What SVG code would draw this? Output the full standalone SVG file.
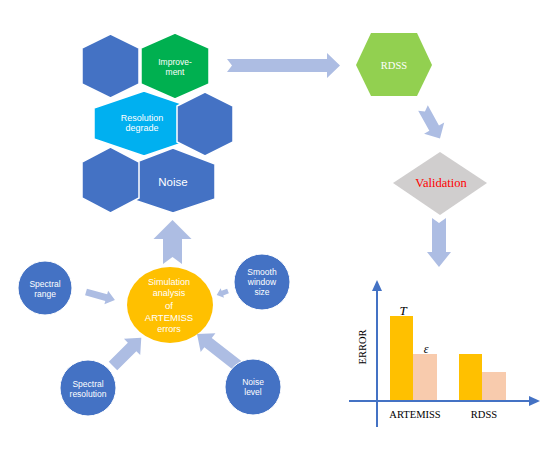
<svg xmlns="http://www.w3.org/2000/svg" width="550" height="450" viewBox="0 0 550 450">
<style>
.hb{fill:#4472C4;stroke:#fff;stroke-width:1.5}
.hg{fill:#00B050;stroke:#fff;stroke-width:1.5}
.hl{fill:#00B0F0;stroke:#fff;stroke-width:1.5}
.cb{fill:#4472C4;stroke:#fff;stroke-width:1}
.arr{fill:#ADBDE3}
.ws{fill:#fff;font-family:"Liberation Sans",Arial,sans-serif;text-anchor:middle}
.sf{font-family:"Liberation Serif","Times New Roman",serif;text-anchor:middle}
.ax{stroke:#4472C4;stroke-width:2;fill:none}
</style>
<rect width="550" height="450" fill="#fff"/>
<g id="connectors">
<polygon class="arr" transform="translate(227,65.5)" points="0,-6.5 100,-6.5 100,-12.5 113,0 100,12.5 100,6.5 0,6.5 5,0"/>
<polygon class="arr" transform="translate(423,108) rotate(61)" points="0,-5.5 23,-5.5 23,-11.5 35,0 23,11.5 23,5.5 0,5.5 4,0"/>
<polygon class="arr" transform="translate(439,218) rotate(90)" points="0,-7 34,-7 34,-12 49,0 34,12 34,7 0,7 5,0"/>
<polygon class="arr" transform="translate(172.5,264) rotate(-90)" points="0,-9.5 25,-9.5 25,-19 44,0 25,19 25,9.5 0,9.5 7,0"/>
<polygon class="arr" transform="translate(86,292) rotate(15.4)" points="0,-3.5 21,-3.5 21,-7 30,0 21,7 21,3.5 0,3.5"/>
<polygon class="arr" transform="translate(113,366) rotate(-45)" points="0,-6 27,-6 27,-11.5 40,0 27,11.5 27,6 0,6"/>
<polygon class="arr" transform="translate(228,291) rotate(160)" points="0,-2.5 6,-2.5 6,-5 12,0 6,5 6,2.5 0,2.5"/>
<polygon class="arr" transform="translate(238,366) rotate(-142)" points="0,-6 38,-6 38,-12 52,0 38,12 38,6 0,6"/>
</g>
<g id="hex-resolution">
<polygon class="hl" points="144,91 194,108 194,139 144,156 94,139 94,108"/>
<text class="ws" x="142" y="121" font-size="9">Resolution</text>
<text class="ws" x="142" y="131" font-size="9">degrade</text>
</g>
<g id="hex-noise">
<polygon class="hb" points="173,148 215,164 215,199 173,213 131,199 131,164"/>
<text class="ws" x="173" y="186" font-size="11.5">Noise</text>
</g>
<g id="hex-improvement">
<polygon class="hg" points="175,33 209,48 209,84 175,99 141,84 141,48"/>
<text class="ws" x="175" y="65" font-size="8.5">Improve-</text>
<text class="ws" x="175" y="74.5" font-size="8.5">ment</text>
</g>
<g id="hex-1"><polygon class="hb" points="110.5,34 139,48 139,84 110.5,98 82,84 82,48"/></g>
<g id="hex-4"><polygon class="hb" points="205,92 233,106 233,142 205,156 177,142 177,106"/></g>
<g id="hex-5"><polygon class="hb" points="110.5,147 139,162 139,198 110.5,213 82,198 82,162"/></g>
<g id="rdss">
<polygon fill="#92D050" points="356,65 371,33 417,33 432,65 417,96 371,96"/>
<text class="sf" x="394" y="69" font-size="10.5" fill="#fff">RDSS</text>
</g>
<g id="validation">
<polygon fill="#D0CECE" points="440,152 487,183 440,215 393,183"/>
<text class="sf" x="441" y="187" font-size="12.5" fill="#FF0000">Validation</text>
</g>
<g id="simulation">
<ellipse cx="170" cy="305" rx="43" ry="38" fill="#FFC000"/>
<text class="ws" x="169" y="285" font-size="9">Simulation</text>
<text class="ws" x="169" y="295.5" font-size="9">analysis</text>
<text class="ws" x="169" y="308.5" font-size="9.5">of</text>
<text class="ws" x="169" y="321" font-size="9.5">ARTEMISS</text>
<text class="ws" x="169" y="331.5" font-size="9">errors</text>
</g>
<g id="spectral-range">
<circle class="cb" cx="45" cy="288" r="27"/>
<text class="ws" x="45" y="287" font-size="8.5">Spectral</text>
<text class="ws" x="45" y="297" font-size="8.5">range</text>
</g>
<g id="spectral-resolution">
<circle class="cb" cx="88" cy="388" r="28"/>
<text class="ws" x="88" y="387" font-size="8.5">Spectral</text>
<text class="ws" x="88" y="397" font-size="8.5">resolution</text>
</g>
<g id="smooth-window">
<circle class="cb" cx="262" cy="282" r="28"/>
<text class="ws" x="262" y="275" font-size="8.5">Smooth</text>
<text class="ws" x="262" y="285" font-size="8.5">window</text>
<text class="ws" x="262" y="294.5" font-size="8.5">size</text>
</g>
<g id="noise-level">
<circle class="cb" cx="253" cy="387" r="28"/>
<text class="ws" x="253" y="385" font-size="8.5">Noise</text>
<text class="ws" x="253" y="395" font-size="8.5">level</text>
</g>
<g id="chart">
<rect x="390" y="316" width="23" height="85" fill="#FFC000"/>
<rect x="413" y="354" width="24" height="47" fill="#F8CBAD"/>
<rect x="459" y="354" width="23" height="47" fill="#FFC000"/>
<rect x="482" y="372" width="24" height="29" fill="#F8CBAD"/>
<line class="ax" x1="377" y1="427" x2="377" y2="288"/>
<polygon fill="#4472C4" points="377,280 372,291 382,291"/>
<line class="ax" x1="349" y1="401" x2="531" y2="401"/>
<polygon fill="#4472C4" points="540,401 529,396 529,406"/>
<text class="sf" x="403" y="315" font-size="13" font-style="italic">T</text>
<text class="sf" x="426" y="353" font-size="12" font-style="italic">ε</text>
<text class="sf" font-size="10.5" transform="translate(366,347) rotate(-90)">ERROR</text>
<text class="sf" x="415" y="418" font-size="10.5">ARTEMISS</text>
<text class="sf" x="484" y="418" font-size="10.5">RDSS</text>
</g>
</svg>
